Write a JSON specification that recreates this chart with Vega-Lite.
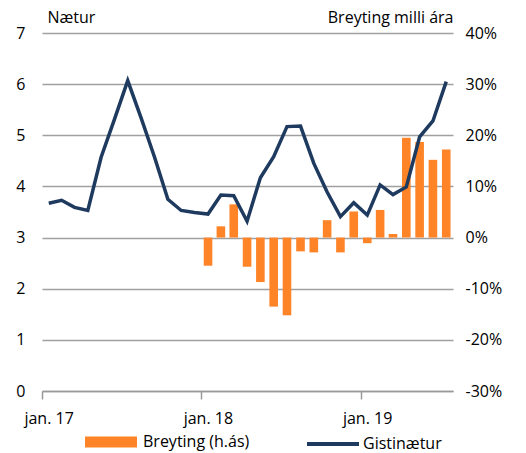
{
  "$schema": "https://vega.github.io/schema/vega-lite/v6.json",
  "width": 411,
  "height": 358,
  "autosize": {"type": "none"},
  "padding": {"left": 42, "top": 33, "right": 73, "bottom": 62},
  "background": "white",
  "config": {
    "font": "Open Sans",
    "view": {"stroke": null},
    "axis": {
      "labelFont": "Open Sans",
      "labelFontSize": 16,
      "labelColor": "#000000",
      "titleFont": "Open Sans",
      "titleFontSize": 16,
      "titleFontWeight": "normal",
      "titleColor": "#000000"
    },
    "legend": {
      "labelFont": "Open Sans",
      "labelFontSize": 16,
      "labelColor": "#000000"
    }
  },
  "data": {
    "values": [
      {"month": "2017-01-01", "gistinaetur": 3.67, "breyting": null},
      {"month": "2017-02-01", "gistinaetur": 3.73, "breyting": null},
      {"month": "2017-03-01", "gistinaetur": 3.59, "breyting": null},
      {"month": "2017-04-01", "gistinaetur": 3.53, "breyting": null},
      {"month": "2017-05-01", "gistinaetur": 4.57, "breyting": null},
      {"month": "2017-06-01", "gistinaetur": 5.31, "breyting": null},
      {"month": "2017-07-01", "gistinaetur": 6.07, "breyting": null},
      {"month": "2017-08-01", "gistinaetur": 5.33, "breyting": null},
      {"month": "2017-09-01", "gistinaetur": 4.57, "breyting": null},
      {"month": "2017-10-01", "gistinaetur": 3.75, "breyting": null},
      {"month": "2017-11-01", "gistinaetur": 3.53, "breyting": null},
      {"month": "2017-12-01", "gistinaetur": 3.49, "breyting": null},
      {"month": "2018-01-01", "gistinaetur": 3.46, "breyting": -0.055},
      {"month": "2018-02-01", "gistinaetur": 3.83, "breyting": 0.022},
      {"month": "2018-03-01", "gistinaetur": 3.82, "breyting": 0.065},
      {"month": "2018-04-01", "gistinaetur": 3.32, "breyting": -0.057},
      {"month": "2018-05-01", "gistinaetur": 4.17, "breyting": -0.087},
      {"month": "2018-06-01", "gistinaetur": 4.58, "breyting": -0.135},
      {"month": "2018-07-01", "gistinaetur": 5.17, "breyting": -0.152},
      {"month": "2018-08-01", "gistinaetur": 5.18, "breyting": -0.027},
      {"month": "2018-09-01", "gistinaetur": 4.45, "breyting": -0.029},
      {"month": "2018-10-01", "gistinaetur": 3.89, "breyting": 0.034},
      {"month": "2018-11-01", "gistinaetur": 3.41, "breyting": -0.029},
      {"month": "2018-12-01", "gistinaetur": 3.68, "breyting": 0.051},
      {"month": "2019-01-01", "gistinaetur": 3.44, "breyting": -0.011},
      {"month": "2019-02-01", "gistinaetur": 4.03, "breyting": 0.054},
      {"month": "2019-03-01", "gistinaetur": 3.84, "breyting": 0.007},
      {"month": "2019-04-01", "gistinaetur": 3.99, "breyting": 0.195},
      {"month": "2019-05-01", "gistinaetur": 4.97, "breyting": 0.187},
      {"month": "2019-06-01", "gistinaetur": 5.28, "breyting": 0.152},
      {"month": "2019-07-01", "gistinaetur": 6.05, "breyting": 0.172}
    ]
  },
  "layer": [
    {
      "mark": {"type": "bar", "width": 8.6},
      "encoding": {
        "x": {
          "field": "month",
          "timeUnit": "yearmonth",
          "type": "temporal",
          "bandPosition": 0.5,
          "scale": {"domain": [{"year": 2017, "month": 1, "date": 1}, {"year": 2019, "month": 8, "date": 1}]},
          "axis": {
            "title": null,
            "values": [{"year": 2017, "month": 1, "date": 1}, {"year": 2018, "month": 1, "date": 1}, {"year": 2019, "month": 1, "date": 1}],
            "labelExpr": "'jan. ' + timeFormat(datum.value, '%y')",
            "labelFlush": false,
            "labelOffset": 6.6,
            "labelPadding": 11,
            "tickSize": 8,
            "tickColor": "#999999",
            "tickWidth": 1.5,
            "domainColor": "#999999",
            "domainWidth": 1.5,
            "grid": false
          }
        },
        "y": {
          "field": "breyting",
          "type": "quantitative",
          "scale": {"domain": [-0.3, 0.4], "nice": false, "zero": true},
          "axis": {
            "orient": "right",
            "values": [-0.3, -0.2, -0.1, 0, 0.1, 0.2, 0.3, 0.4],
            "labelExpr": "(datum.value < 0 ? '-' : '') + format(abs(datum.value) * 100, '.0f') + '%'",
            "grid": false,
            "domain": false,
            "ticks": false,
            "labelPadding": 12,
            "title": "Breyting milli ára",
            "titleAngle": 0,
            "titleAlign": "right",
            "titleBaseline": "alphabetic",
            "titleX": 0,
            "titleY": -11
          }
        },
        "fill": {
          "datum": "Breyting (h.ás)",
          "type": "nominal",
          "scale": {"range": ["#FF8427"]},
          "legend": {
            "title": null,
            "orient": "none",
            "legendX": 59,
            "legendY": 399,
            "padding": 0,
            "symbolType": "M-2.6,-0.55H2.6V0.55H-2.6Z",
            "symbolSize": 400,
            "symbolStrokeWidth": 0,
            "labelOffset": 22
          }
        }
      }
    },
    {
      "mark": {"type": "line", "strokeWidth": 3.5},
      "encoding": {
        "x": {
          "field": "month",
          "timeUnit": "yearmonth",
          "type": "temporal",
          "bandPosition": 0.5
        },
        "y": {
          "field": "gistinaetur",
          "type": "quantitative",
          "scale": {"domain": [0, 7], "nice": false},
          "axis": {
            "orient": "left",
            "values": [0, 1, 2, 3, 4, 5, 6, 7],
            "grid": true,
            "gridColor": "#A0A0A0",
            "gridWidth": 1.5,
            "domain": false,
            "ticks": false,
            "labelPadding": 17,
            "title": "Nætur",
            "titleAngle": 0,
            "titleAlign": "left",
            "titleBaseline": "alphabetic",
            "titleX": 5,
            "titleY": -11
          }
        },
        "stroke": {
          "datum": "Gistinætur",
          "type": "nominal",
          "scale": {"range": ["#1F3A5F"]},
          "legend": {
            "title": null,
            "orient": "none",
            "legendX": 279,
            "legendY": 399,
            "padding": 0,
            "symbolType": "M-2.6,0H2.6",
            "symbolSize": 400,
            "symbolStrokeWidth": 4,
            "labelOffset": 18
          }
        }
      }
    }
  ],
  "resolve": {"scale": {"y": "independent", "fill": "independent", "stroke": "independent"}}
}
